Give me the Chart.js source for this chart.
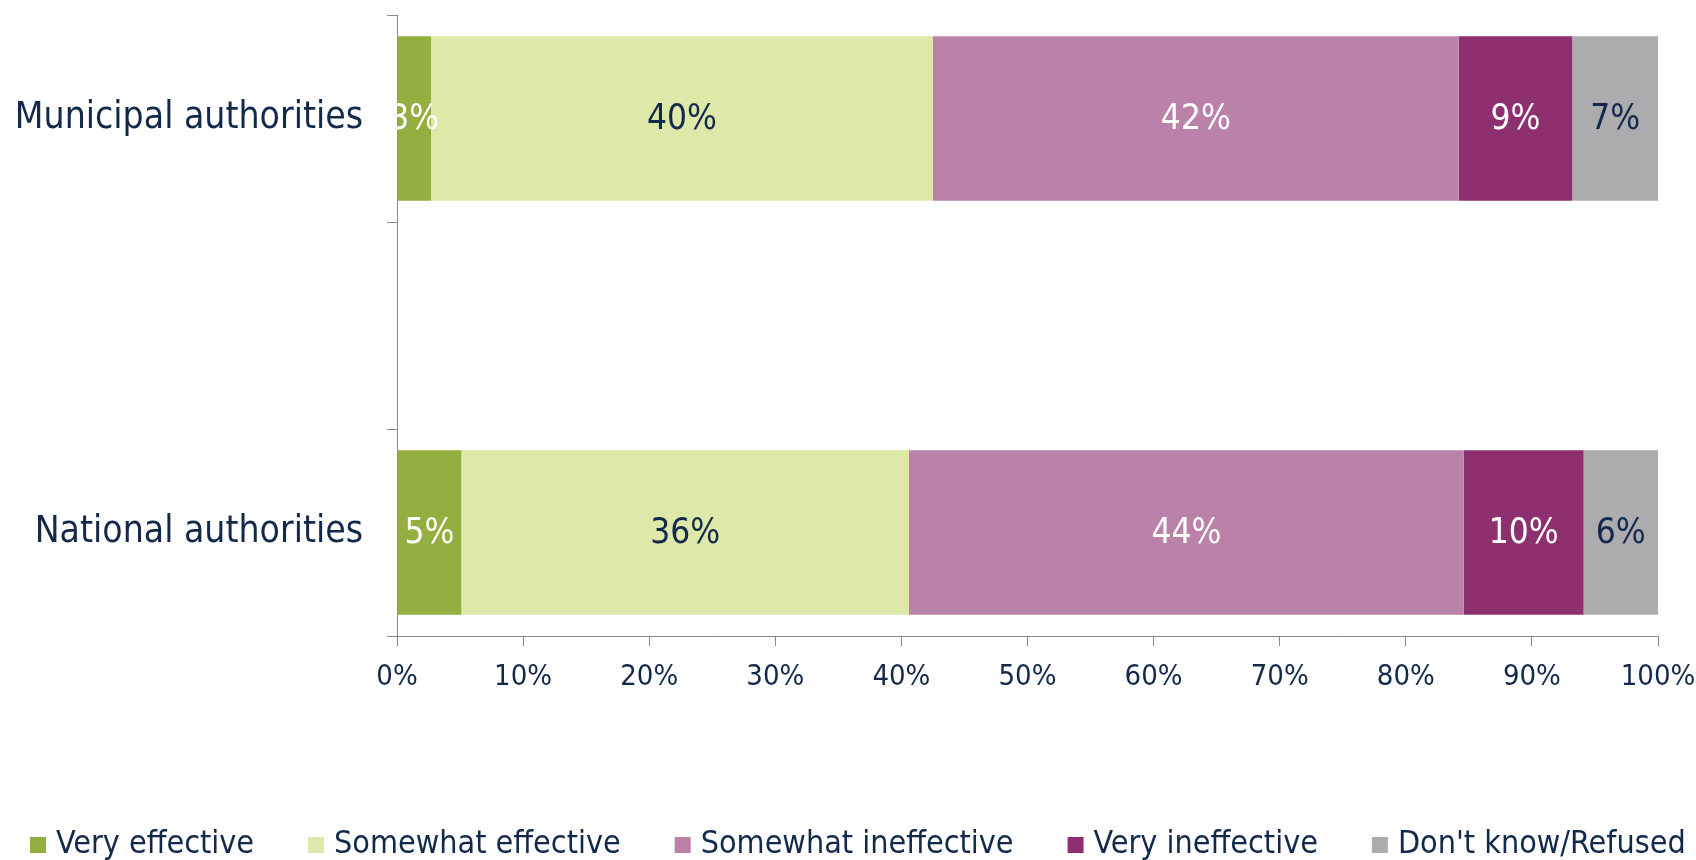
<!DOCTYPE html>
<html>
<head>
<meta charset="utf-8">
<script src="https://cdn.jsdelivr.net/npm/chart.js@4.4.1/dist/chart.umd.min.js"></script>
<style>
  html, body { margin: 0; padding: 0; background: #fff; }
  #wrap { width: 1696px; height: 860px; }
</style>
</head>
<body>
<div id="wrap"><canvas id="chart" width="1696" height="860"></canvas></div>
<script>
// categories (middle slot is the empty gap the original chart leaves)
const categories = ['Municipal authorities', '', 'National authorities'];
const seriesNames = ['Very effective', 'Somewhat effective', 'Somewhat ineffective', 'Very ineffective', "Don't know/Refused"];

// share of respondents, %
const veryEffective = [2.7, null, 5.1];
const somewhatEffective = [39.8, null, 35.5];
const somewhatIneffective = [41.7, null, 44.0];
const veryIneffective = [9.0, null, 9.5];
const dontKnow = [6.8, null, 5.9];

const xTicks = [0, 10, 20, 30, 40, 50, 60, 70, 80, 90, 100];

const colors = ['#93AF3F', '#DDE8A9', '#BA82A8', '#8E3070', '#ACACAE'];
const labelColors = ['#FFFFFF', '#13294B', '#FFFFFF', '#FFFFFF', '#13294B'];
const navy = '#13294B';
const axisGrey = '#8A8A8A';
const uiFont = '"DejaVu Sans Condensed", "DejaVu Sans", sans-serif';
const valueFont = '"Liberation Sans Narrow", "DejaVu Sans Condensed", sans-serif';

const seriesValues = [veryEffective, somewhatEffective, somewhatIneffective, veryIneffective, dontKnow];

// draws the rounded % in the middle of each segment
const barLabels = {
    id: 'barLabels',
    afterDatasetsDraw(chart) {
        const ctx = chart.ctx;
        ctx.save();
        ctx.font = '35px ' + valueFont;
        ctx.textAlign = 'center';
        ctx.textBaseline = 'middle';
        chart.data.datasets.forEach((ds, i) => {
            chart.getDatasetMeta(i).data.forEach((bar, j) => {
                const v = ds.data[j];
                if (v == null) return;
                const p = bar.getProps(['x', 'y', 'base'], true);
                ctx.fillStyle = labelColors[i];
                ctx.fillText(Math.round(v) + '%', (p.x + p.base) / 2, p.y + 1);
            });
        });
        ctx.restore();
    }
};

// one-row legend with the wide spacing of the original
const wideLegend = {
    id: 'wideLegend',
    afterDraw(chart) {
        const ctx = chart.ctx;
        const box = 16, textGap = 10, itemGap = 54;
        const y = chart.height - 15;
        ctx.save();
        ctx.font = '32px ' + uiFont;
        ctx.textBaseline = 'middle';
        ctx.textAlign = 'left';
        let x = 30;
        chart.data.datasets.forEach((ds) => {
            ctx.fillStyle = ds.backgroundColor;
            ctx.fillRect(x, y - box / 2, box, box);
            x += box + textGap;
            ctx.fillStyle = navy;
            ctx.fillText(ds.label, x, y);
            x += ctx.measureText(ds.label).width + itemGap;
        });
        ctx.restore();
    }
};

new Chart(document.getElementById('chart'), {
    type: 'bar',
    data: {
        labels: categories,
        datasets: seriesNames.map((name, i) => ({
            label: name,
            data: seriesValues[i],
            backgroundColor: colors[i],
            borderWidth: 0,
            barPercentage: 0.795,
            categoryPercentage: 1
        }))
    },
    options: {
        indexAxis: 'y',
        responsive: false,
        animation: false,
        devicePixelRatio: 1,
        layout: {
            padding: {top: 15, right: 38, bottom: 164, left: 0}
        },
        plugins: {
            tooltip: {enabled: false},
            legend: {display: false}
        },
        scales: {
            x: {
                type: 'linear',
                stacked: true,
                min: 0,
                max: 100,
                afterBuildTicks: (scale) => {
                    scale.ticks = xTicks.map(v => ({value: v}));
                },
                afterFit: (scale) => {
                    scale.height = 60;
                    scale.paddingLeft = 0;
                    scale.paddingRight = 0;
                },
                ticks: {
                    callback: (v) => v + '%',
                    color: navy,
                    padding: 14,
                    maxRotation: 0,
                    font: {family: uiFont, size: 29}
                },
                grid: {
                    drawOnChartArea: false,
                    drawTicks: true,
                    tickLength: 10,
                    color: axisGrey
                },
                border: {color: axisGrey, width: 1}
            },
            y: {
                stacked: true,
                offset: true,
                afterFit: (scale) => {
                    scale.width = 397;
                    scale.paddingTop = 0;
                    scale.paddingBottom = 0;
                },
                ticks: {
                    color: navy,
                    padding: 24,
                    font: {family: uiFont, size: 37}
                },
                grid: {
                    offset: true,
                    drawOnChartArea: false,
                    drawTicks: true,
                    tickLength: 10,
                    color: axisGrey
                },
                border: {color: axisGrey, width: 1}
            }
        }
    },
    plugins: [barLabels, wideLegend]
});
</script>
</body>
</html>
